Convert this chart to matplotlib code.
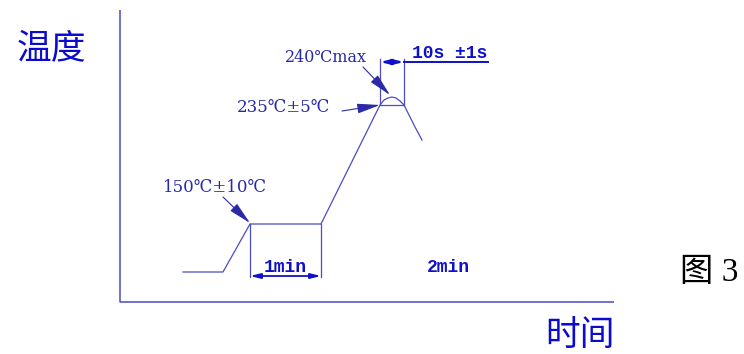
import matplotlib
matplotlib.use("Agg")
import matplotlib.pyplot as plt

# ---- schematic data (picture units: x to the right, y downward) ----
axis_x = [120, 120, 614]
axis_y = [10, 302, 302]

curve_x = [183, 223, 250, 321, 380, 384, 388, 392, 396, 400, 404, 409, 415, 422]
curve_y = [272, 272, 224, 224, 105, 100, 98, 97, 98, 101, 105, 115, 127, 140]

soak_start, soak_end, soak_level, soak_dim = 250, 321, 224, 276
peak_left, peak_right, peak_chord, peak_dim = 380, 404, 105, 62
peak_ext_top = 59
underline_end = 488

labels_temp = ["150℃±10℃", "235℃±5℃", "240℃max"]
labels_dim = ["1min", "2min", "10s ±1s"]
axis_labels = ["温度", "时间"]
fig_label = "图 3"

LINE = "#4b4bc4"
TXT = "#2a2aa8"
BOLD = "#1010c8"

fig = plt.figure(figsize=(7.44, 3.54), dpi=100)
ax = fig.add_axes([0, 0, 1, 1])
ax.set_xlim(0, 744)
ax.set_ylim(354, 0)
ax.axis("off")

lw = 0.9
# axes
ax.plot(axis_x, axis_y, color=LINE, lw=1.1, solid_capstyle="butt")
# curve
ax.plot(curve_x, curve_y, color=LINE, lw=lw)

# soak box and dimension
ax.plot([soak_start, soak_start], [soak_level, soak_dim + 1], color=LINE, lw=lw)
ax.plot([soak_end, soak_end], [soak_level, soak_dim + 1], color=LINE, lw=lw)
ax.annotate("", xy=(soak_start, soak_dim), xytext=(soak_end, soak_dim),
            arrowprops=dict(arrowstyle="<|-|>,head_length=0.6,head_width=0.15",
                            color=BOLD, lw=1.3, shrinkA=0, shrinkB=0))

# peak dimension
ax.plot([peak_left, peak_right], [peak_chord, peak_chord], color=LINE, lw=lw)
ax.plot([peak_left, peak_left], [peak_ext_top, peak_chord], color=LINE, lw=lw)
ax.plot([peak_right, peak_right], [peak_ext_top, peak_chord], color=LINE, lw=lw)
ax.annotate("", xy=(peak_left, peak_dim), xytext=(peak_right, peak_dim),
            arrowprops=dict(arrowstyle="<|-|>,head_length=0.6,head_width=0.15",
                            color=BOLD, lw=1.6, shrinkA=0, shrinkB=0))
ax.plot([peak_right, underline_end], [peak_dim, peak_dim], color=BOLD, lw=1.4)

# leader arrows
arrow = dict(arrowstyle="-|>,head_length=1.4,head_width=0.3", color=TXT,
             lw=0.8, shrinkA=0, shrinkB=0)
ax.annotate("", xy=(250, 223), xytext=(223, 197), arrowprops=arrow)
ax.annotate("", xy=(380, 105), xytext=(342, 111), arrowprops=arrow)
ax.annotate("", xy=(390, 95), xytext=(363, 67), arrowprops=arrow)

fam_t = ["DejaVu Serif", "Noto Sans CJK SC", "DejaVu Sans"]
ax.text(163, 187, labels_temp[0], family=fam_t, fontsize=12, color=TXT,
        ha="left", va="center")
ax.text(330, 107, labels_temp[1], family=fam_t, fontsize=12, color=TXT,
        ha="right", va="center")
ax.text(285, 57, labels_temp[2], family=fam_t, fontsize=11.5, color=TXT,
        ha="left", va="center")

fam_b = ["Liberation Mono", "DejaVu Sans Mono"]
ax.text(285.5, 268, labels_dim[0], family=fam_b, fontsize=13, weight="bold",
        color=BOLD, ha="center", va="center")
ax.text(448, 268, labels_dim[1], family=fam_b, fontsize=13, weight="bold",
        color=BOLD, ha="center", va="center")
ax.text(450, 53, labels_dim[2], family=fam_b, fontsize=13, weight="bold",
        color=BOLD, ha="center", va="center")

fam_c = ["Noto Sans CJK SC", "DejaVu Sans"]
ax.text(51, 49, axis_labels[0], family=fam_c, fontsize=25, color="#0a0ad0",
        ha="center", va="center")
ax.text(580, 336, axis_labels[1], family=fam_c, fontsize=25, color="#0a0ad0",
        ha="center", va="center")
ax.text(709, 273, fig_label, family=["Liberation Serif", "Noto Sans CJK SC"],
        fontsize=24, color="black", ha="center", va="center")

fig.savefig("out.png", dpi=100, facecolor="white")
